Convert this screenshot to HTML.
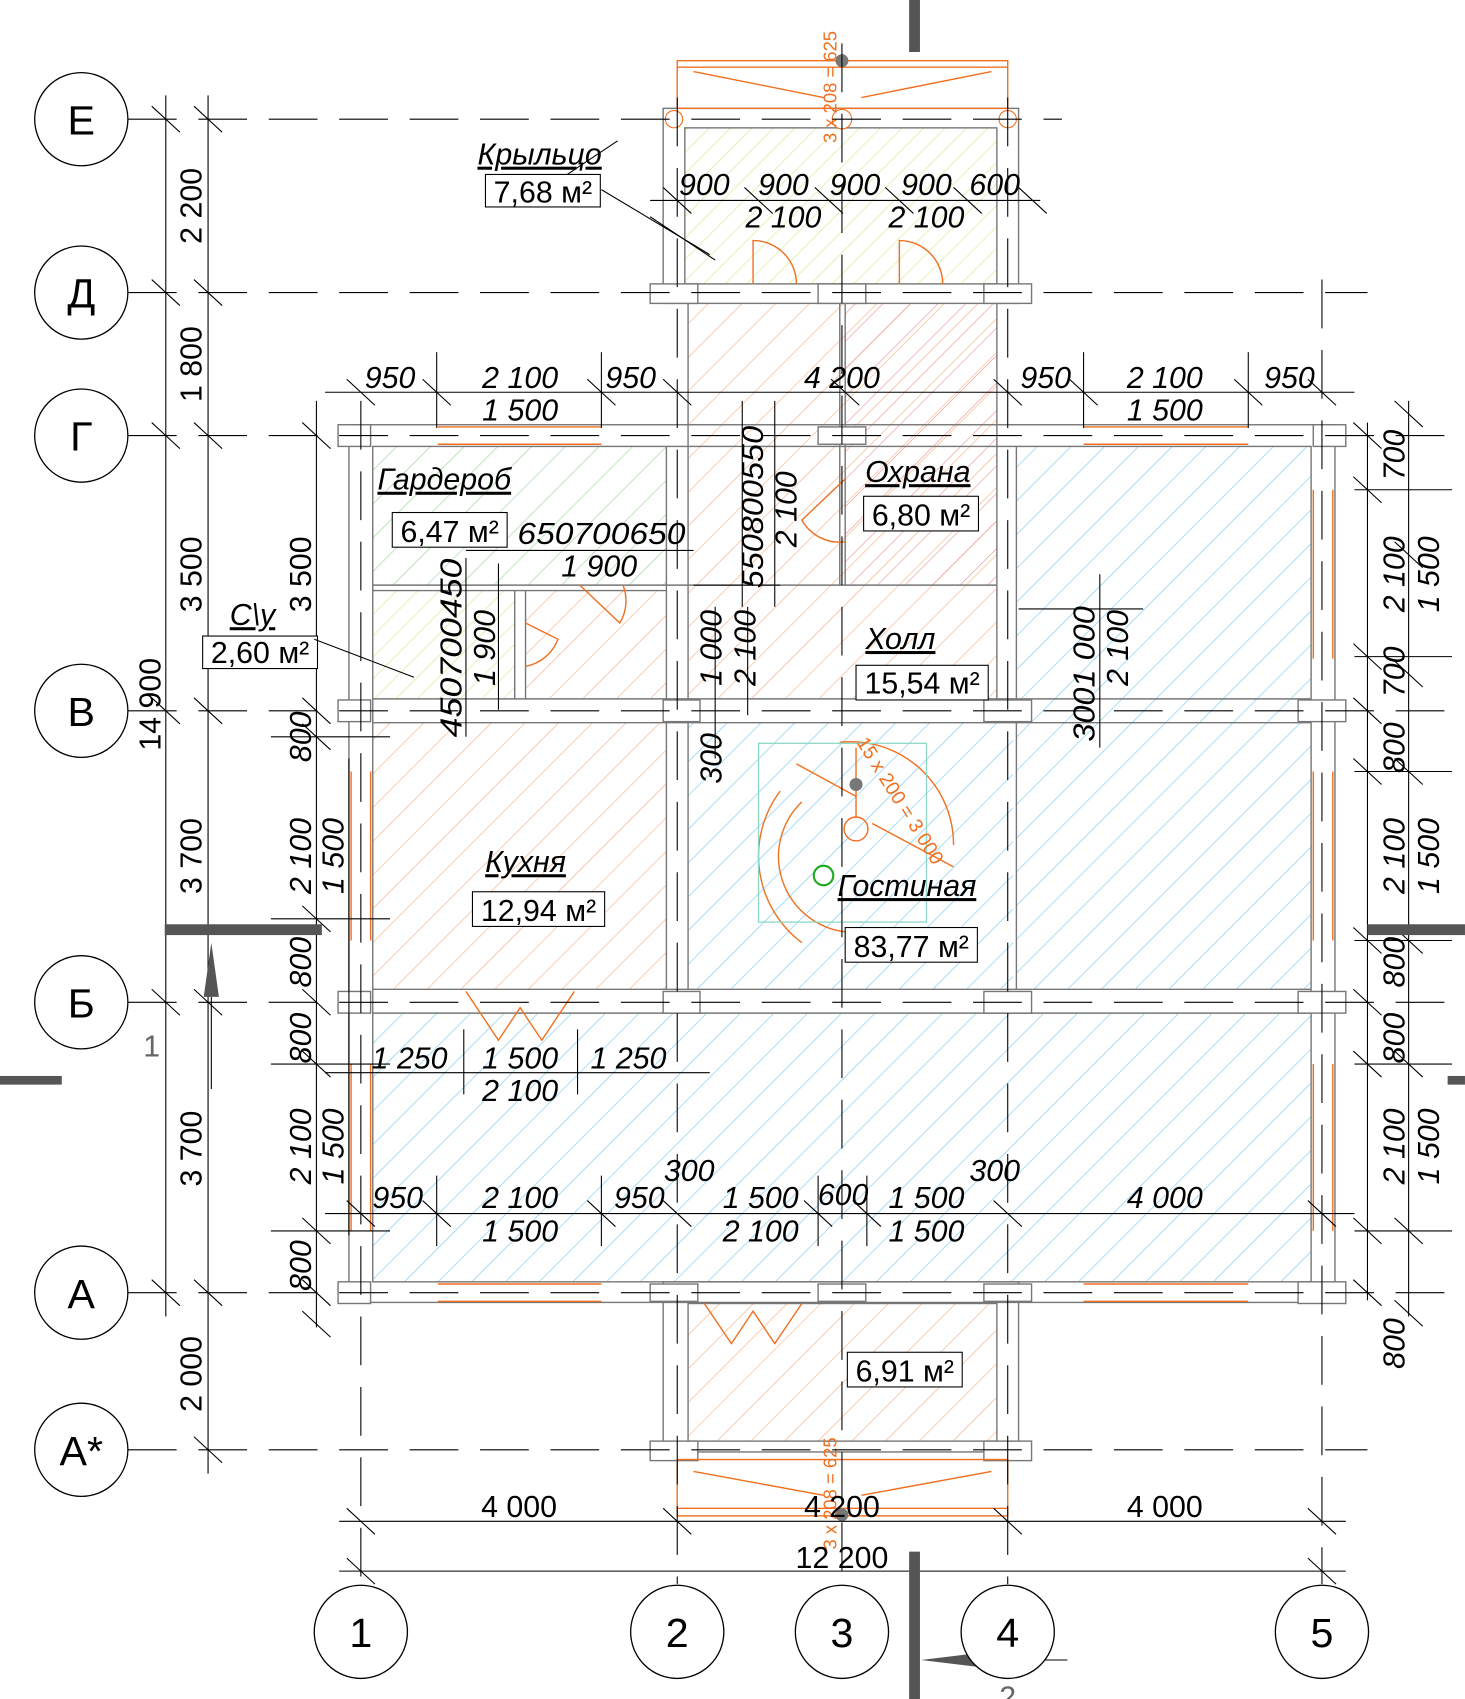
<!DOCTYPE html>
<html><head><meta charset="utf-8"><style>
html,body{margin:0;padding:0;background:#fff}
svg{display:block}
text{font-family:"Liberation Sans",sans-serif;fill:#000}
.d{font-size:28px;font-style:italic}
.n{font-size:28px;font-style:normal}
.l{font-size:28px;font-style:italic;text-decoration:underline}
.c{font-size:38px;font-style:normal}
</style></head><body>
<svg width="1465" height="1699" viewBox="0 0 1352 1568" xmlns="http://www.w3.org/2000/svg">
<defs>
<pattern id="ho" width="22" height="22" patternUnits="userSpaceOnUse" patternTransform="rotate(45)"><line x1="0" y1="0" x2="0" y2="22" stroke="#f5b48a" stroke-width="1.2"/></pattern>
<pattern id="hb" width="22" height="22" patternUnits="userSpaceOnUse" patternTransform="rotate(45)"><line x1="0" y1="0" x2="0" y2="22" stroke="#7ccbf0" stroke-width="1.2"/></pattern>
<pattern id="hg" width="22" height="22" patternUnits="userSpaceOnUse" patternTransform="rotate(45)"><line x1="0" y1="0" x2="0" y2="22" stroke="#9ed69a" stroke-width="1.2"/></pattern>
<pattern id="hy" width="14" height="14" patternUnits="userSpaceOnUse" patternTransform="rotate(45)"><line x1="0" y1="0" x2="0" y2="14" stroke="#d8e890" stroke-width="1.2"/></pattern>
<pattern id="hr" width="18" height="18" patternUnits="userSpaceOnUse" patternTransform="rotate(45)"><line x1="0" y1="0" x2="0" y2="18" stroke="#ee9a9a" stroke-width="1.2"/></pattern>
</defs>
<rect x="632" y="118" width="288" height="144" fill="url(#hy)"/>
<rect x="635" y="280" width="285" height="365" fill="url(#ho)"/>
<rect x="780" y="280" width="140" height="260" fill="url(#hr)"/>
<rect x="344" y="412" width="271" height="128" fill="url(#hg)"/>
<rect x="344" y="545" width="131" height="100" fill="url(#hy)"/>
<rect x="485" y="545" width="130" height="100" fill="url(#ho)"/>
<rect x="938" y="412" width="272" height="501" fill="url(#hb)"/>
<rect x="635" y="667" width="300" height="246" fill="url(#hb)"/>
<rect x="344" y="667" width="271" height="246" fill="url(#ho)"/>
<rect x="344" y="935" width="866" height="248" fill="url(#hb)"/>
<rect x="635" y="1203" width="285" height="127" fill="url(#ho)"/>
<g fill="none" stroke="#777" stroke-width="1.3">
<rect x="322" y="392" width="910" height="810"/>
<rect x="344" y="412" width="866" height="771"/>
<rect x="612" y="100" width="328" height="180"/>
<rect x="632" y="118" width="288" height="144"/>
<rect x="612" y="1183" width="328" height="157"/>
<rect x="635" y="1203" width="285" height="127"/>
<line x1="615" y1="412" x2="615" y2="645"/><line x1="635" y1="280" x2="635" y2="645"/>
<line x1="920" y1="280" x2="920" y2="645"/><line x1="938" y1="412" x2="938" y2="913"/>
<line x1="344" y1="645" x2="1210" y2="645"/><line x1="344" y1="667" x2="1210" y2="667"/>
<line x1="344" y1="913" x2="1210" y2="913"/><line x1="344" y1="935" x2="1210" y2="935"/>
<line x1="615" y1="667" x2="615" y2="913"/><line x1="635" y1="667" x2="635" y2="913"/>
<line x1="344" y1="540" x2="920" y2="540"/><line x1="344" y1="545" x2="615" y2="545"/>
<line x1="475" y1="545" x2="475" y2="645"/><line x1="485" y1="545" x2="485" y2="645"/>
<line x1="775" y1="280" x2="775" y2="540"/><line x1="780" y1="280" x2="780" y2="540"/>
</g>
<g fill="#fff" stroke="#777" stroke-width="1.3">
<rect x="312" y="392" width="30" height="20"/><rect x="1212" y="392" width="30" height="20"/>
<rect x="312" y="646" width="30" height="20"/><rect x="1198" y="646" width="44" height="20"/>
<rect x="312" y="915" width="30" height="20"/><rect x="1198" y="915" width="44" height="20"/>
<rect x="312" y="1183" width="30" height="20"/><rect x="1198" y="1183" width="44" height="20"/>
<rect x="612" y="646" width="34" height="20"/><rect x="908" y="646" width="44" height="20"/>
<rect x="612" y="915" width="34" height="20"/><rect x="908" y="915" width="44" height="20"/>
<rect x="600" y="262" width="44" height="18"/><rect x="908" y="262" width="44" height="18"/>
<rect x="755" y="262" width="44" height="18"/><rect x="755" y="394" width="44" height="16"/>
<rect x="600" y="1330" width="44" height="18"/><rect x="908" y="1330" width="44" height="18"/>
<rect x="755" y="1185" width="44" height="16"/>
<rect x="600" y="1185" width="44" height="16"/><rect x="908" y="1185" width="44" height="16"/>
</g>
<g stroke="#f07020" stroke-width="1.3" fill="none">
<line x1="404" y1="394" x2="555" y2="394"/><line x1="404" y1="410" x2="555" y2="410"/>
<line x1="1000" y1="394" x2="1152" y2="394"/><line x1="1000" y1="410" x2="1152" y2="410"/>
<line x1="404" y1="1185" x2="555" y2="1185"/><line x1="404" y1="1201" x2="555" y2="1201"/>
<line x1="1000" y1="1185" x2="1152" y2="1185"/><line x1="1000" y1="1201" x2="1152" y2="1201"/>
<line x1="324" y1="712" x2="324" y2="868"/><line x1="342" y1="712" x2="342" y2="868"/>
<line x1="324" y1="982" x2="324" y2="1136"/><line x1="342" y1="982" x2="342" y2="1136"/>
<line x1="1212" y1="452" x2="1212" y2="608"/><line x1="1230" y1="452" x2="1230" y2="608"/>
<line x1="1212" y1="712" x2="1212" y2="868"/><line x1="1230" y1="712" x2="1230" y2="868"/>
<line x1="1212" y1="982" x2="1212" y2="1136"/><line x1="1230" y1="982" x2="1230" y2="1136"/>
<rect x="625" y="56" width="305" height="44"/><line x1="625" y1="62" x2="930" y2="62"/>
<line x1="640" y1="66" x2="760" y2="90"/><line x1="915" y1="66" x2="795" y2="90"/>
<rect x="625" y="1347" width="305" height="52"/><line x1="625" y1="1392" x2="930" y2="1392"/>
<line x1="640" y1="1358" x2="760" y2="1380"/><line x1="915" y1="1358" x2="795" y2="1380"/>
<path d="M695 262 L695 222 A40 40 0 0 1 735 262"/>
<path d="M830 262 L830 222 A40 40 0 0 1 870 262"/>
<path d="M780 442 L740 480 A40 40 0 0 0 780 500"/>
<path d="M535 540 L572 575 A40 40 0 0 0 575 540"/>
<path d="M485 575 L515 590 A40 40 0 0 1 485 615"/>
<path d="M430 915 L460 960 L480 930 L500 960 L530 915"/>
<path d="M650 1203 L675 1240 L695 1210 L715 1240 L740 1203"/>
<path d="M775 685 A95 95 0 0 1 880 780"/><path d="M790 690 L790 755"/>
<path d="M735 705 L790 735"/><path d="M805 760 L880 800"/>
<path d="M740 740 A70 70 0 0 0 780 860"/><path d="M720 730 A100 100 0 0 0 740 870"/>
<circle cx="790" cy="765" r="11"/>
</g>
<circle cx="790" cy="724" r="6" fill="#777"/>
<rect x="700" y="686" width="155" height="165" fill="none" stroke="#8dd8c8" stroke-width="1.2"/>
<circle cx="760" cy="808" r="9" fill="none" stroke="#2a2" stroke-width="2"/>
<circle cx="777" cy="56" r="6" fill="#777"/><circle cx="777" cy="110" r="9" fill="#fff" stroke="#f07020"/>
<circle cx="622" cy="110" r="8" fill="#fff" stroke="#f07020"/><circle cx="930" cy="110" r="8" fill="#fff" stroke="#f07020"/>
<circle cx="777" cy="1398" r="6" fill="#777"/>
<text x="0" y="0" transform="translate(772,132) rotate(-90)" style="font-size:17px;fill:#f07020">3 x 208 = 625</text>
<text x="0" y="0" transform="translate(772,1430) rotate(-90)" style="font-size:17px;fill:#f07020">3 x 208 = 625</text>
<text x="0" y="0" transform="translate(790,685) rotate(58)" style="font-size:18px;fill:#f07020">15 x 200 = 3 000</text>
<g stroke="#000" stroke-width="1" stroke-dasharray="45,20">
<line x1="118" y1="110" x2="980" y2="110"/><line x1="118" y1="270" x2="1262" y2="270"/>
<line x1="118" y1="402" x2="1352" y2="402"/><line x1="118" y1="656" x2="1352" y2="656"/>
<line x1="118" y1="925" x2="1352" y2="925"/><line x1="118" y1="1193" x2="1352" y2="1193"/>
<line x1="118" y1="1338" x2="1262" y2="1338"/>
<line x1="333" y1="370" x2="333" y2="1462"/><line x1="625" y1="90" x2="625" y2="1462"/>
<line x1="777" y1="40" x2="777" y2="1462"/><line x1="930" y1="90" x2="930" y2="1462"/>
<line x1="1220" y1="258" x2="1220" y2="1462"/>
</g>
<g stroke="#000" stroke-width="1">
<line x1="153" y1="88" x2="153" y2="1215"/><line x1="192" y1="88" x2="192" y2="1360"/>
<line x1="292" y1="370" x2="292" y2="1225"/><line x1="322" y1="700" x2="322" y2="1140"/>
<line x1="1262" y1="390" x2="1262" y2="1200"/><line x1="1300" y1="370" x2="1300" y2="1215"/>
<line x1="300" y1="362" x2="1250" y2="362"/><line x1="300" y1="1120" x2="1250" y2="1120"/>
<line x1="313" y1="1404" x2="1242" y2="1404"/><line x1="313" y1="1450" x2="1242" y2="1450"/>
<line x1="600" y1="185" x2="960" y2="185"/><line x1="300" y1="990" x2="655" y2="990"/>
<line x1="430" y1="508" x2="640" y2="508"/>
<line x1="250" y1="680" x2="360" y2="680"/><line x1="250" y1="848" x2="360" y2="848"/>
<line x1="250" y1="982" x2="360" y2="982"/><line x1="250" y1="1136" x2="360" y2="1136"/>
<line x1="1250" y1="452" x2="1340" y2="452"/><line x1="1250" y1="606" x2="1340" y2="606"/>
<line x1="1250" y1="712" x2="1340" y2="712"/><line x1="1250" y1="868" x2="1340" y2="868"/>
<line x1="1250" y1="982" x2="1340" y2="982"/><line x1="1250" y1="1136" x2="1340" y2="1136"/>
<line x1="940" y1="562" x2="1055" y2="562"/><line x1="640" y1="540" x2="720" y2="540"/>
<line x1="685" y1="370" x2="685" y2="560"/><line x1="715" y1="370" x2="715" y2="560"/>
<line x1="660" y1="560" x2="660" y2="700"/><line x1="690" y1="560" x2="690" y2="660"/>
<line x1="1015" y1="530" x2="1015" y2="690"/>
<line x1="430" y1="515" x2="430" y2="680"/><line x1="460" y1="520" x2="460" y2="655"/>
<line x1="403" y1="325" x2="403" y2="395"/><line x1="555" y1="325" x2="555" y2="395"/>
<line x1="1000" y1="325" x2="1000" y2="395"/><line x1="1152" y1="325" x2="1152" y2="395"/>
<line x1="403" y1="1085" x2="403" y2="1150"/><line x1="555" y1="1085" x2="555" y2="1150"/>
<line x1="755" y1="1085" x2="755" y2="1150"/><line x1="800" y1="1085" x2="800" y2="1150"/>
<line x1="428" y1="950" x2="428" y2="1010"/><line x1="533" y1="950" x2="533" y2="1010"/>
</g>
<g stroke="#000" stroke-width="1">
<path d="M140 98l26 24M179 98l26 24M140 258l26 24M179 258l26 24M140 390l26 24M179 390l26 24M140 644l26 24M179 644l26 24M140 913l26 24M179 913l26 24M140 1181l26 24M179 1181l26 24M179 1326l26 24"/>
<path d="M320 350l26 24M390 350l26 24M542 350l26 24M612 350l26 24M767 350l26 24M917 350l26 24M987 350l26 24M1139 350l26 24M1207 350l26 24"/>
<path d="M320 1108l26 24M390 1108l26 24M542 1108l26 24M612 1108l26 24M742 1108l26 24M787 1108l26 24M917 1108l26 24M1207 1108l26 24"/>
<path d="M320 1392l26 24M612 1392l26 24M917 1392l26 24M1207 1392l26 24M320 1438l26 24M1207 1438l26 24"/>
<path d="M279 390l26 24M279 644l26 24M279 668l26 24M279 836l26 24M279 913l26 24M279 970l26 24M279 1124l26 24M279 1181l26 24M279 1210l26 24"/>
<path d="M1249 390l26 24M1249 440l26 24M1249 594l26 24M1249 644l26 24M1249 700l26 24M1249 856l26 24M1249 913l26 24M1249 970l26 24M1249 1124l26 24M1249 1181l26 24"/>
<path d="M1287 370l26 24M1287 500l26 24M1287 610l26 24M1287 700l26 24M1287 856l26 24M1287 970l26 24M1287 1124l26 24M1287 1200l26 24"/>
<path d="M612 173l26 24M687 173l26 24M752 173l26 24M817 173l26 24M880 173l26 24M940 173l26 24"/>
<path d="M600 200l60 40M570 130l-60 40"/>
</g>
<g fill="#555">
<rect x="839" y="0" width="10" height="48"/><rect x="839" y="1432" width="10" height="136"/>
<rect x="152" y="853" width="145" height="10"/><rect x="1262" y="853" width="90" height="10"/>
<rect x="0" y="993" width="57" height="8"/><rect x="1336" y="993" width="16" height="8"/>
<polygon points="195,870 188,920 202,920"/><polygon points="850,1532 908,1525 908,1539"/>
</g>
<line x1="195" y1="920" x2="195" y2="1005" stroke="#000"/><line x1="908" y1="1532" x2="985" y2="1532" stroke="#000"/>
<text class="n" x="140" y="975" text-anchor="middle" style="fill:#666">1</text>
<text class="n" x="930" y="1576" text-anchor="middle" style="fill:#666">2</text>
<g fill="#fff" stroke="#000" stroke-width="1.2">
<circle cx="75" cy="110" r="43"/><circle cx="75" cy="270" r="43"/><circle cx="75" cy="402" r="43"/>
<circle cx="75" cy="656" r="43"/><circle cx="75" cy="925" r="43"/><circle cx="75" cy="1193" r="43"/><circle cx="75" cy="1338" r="43"/>
<circle cx="333" cy="1506" r="43"/><circle cx="625" cy="1506" r="43"/><circle cx="777" cy="1506" r="43"/><circle cx="930" cy="1506" r="43"/><circle cx="1220" cy="1506" r="43"/>
</g>
<g text-anchor="middle">
<text class="c" x="75" y="124">Е</text><text class="c" x="75" y="284">Д</text><text class="c" x="75" y="416">Г</text>
<text class="c" x="75" y="670">В</text><text class="c" x="75" y="939">Б</text><text class="c" x="75" y="1207">А</text><text class="c" x="75" y="1352">А*</text>
<text class="c" x="333" y="1520">1</text><text class="c" x="625" y="1520">2</text><text class="c" x="777" y="1520">3</text><text class="c" x="930" y="1520">4</text><text class="c" x="1220" y="1520">5</text>
</g>
<g text-anchor="middle">
<text class="d" x="360" y="358">950</text><text class="d" x="480" y="358">2 100</text><text class="d" x="582" y="358">950</text><text class="d" x="777" y="358">4 200</text><text class="d" x="965" y="358">950</text><text class="d" x="1075" y="358">2 100</text><text class="d" x="1190" y="358">950</text>
<text class="d" x="480" y="388">1 500</text><text class="d" x="1075" y="388">1 500</text>
<text class="d" x="650" y="180">900</text><text class="d" x="723" y="180">900</text><text class="d" x="789" y="180">900</text><text class="d" x="855" y="180">900</text><text class="d" x="918" y="180">600</text>
<text class="d" x="723" y="210">2 100</text><text class="d" x="855" y="210">2 100</text>
<text class="d" x="555" y="502" textLength="155" lengthAdjust="spacingAndGlyphs">650700650</text><text class="d" x="553" y="532">1 900</text>
<text class="d" x="378" y="986">1 250</text><text class="d" x="480" y="986">1 500</text><text class="d" x="580" y="986">1 250</text><text class="d" x="480" y="1016">2 100</text>
<text class="d" x="367" y="1115">950</text><text class="d" x="480" y="1115">2 100</text><text class="d" x="590" y="1115">950</text><text class="d" x="702" y="1115">1 500</text><text class="d" x="778" y="1112">600</text><text class="d" x="855" y="1115">1 500</text><text class="d" x="1075" y="1115">4 000</text>
<text class="d" x="636" y="1090">300</text><text class="d" x="918" y="1090">300</text>
<text class="d" x="480" y="1146">1 500</text><text class="d" x="702" y="1146">2 100</text><text class="d" x="855" y="1146">1 500</text>
<text class="n" x="479" y="1400">4 000</text><text class="n" x="777" y="1400">4 200</text><text class="n" x="1075" y="1400">4 000</text><text class="n" x="777" y="1447">12 200</text>
</g>
<g text-anchor="middle">
<text class="n" transform="translate(186,190) rotate(-90)">2 200</text>
<text class="n" transform="translate(186,336) rotate(-90)">1 800</text>
<text class="n" transform="translate(186,530) rotate(-90)">3 500</text>
<text class="n" transform="translate(148,650) rotate(-90)">14 900</text>
<text class="n" transform="translate(186,790) rotate(-90)">3 700</text>
<text class="n" transform="translate(186,1060) rotate(-90)">3 700</text>
<text class="n" transform="translate(186,1268) rotate(-90)">2 000</text>
<text class="n" transform="translate(287,530) rotate(-90)">3 500</text>
<text class="d" transform="translate(287,680) rotate(-90)">800</text>
<text class="d" transform="translate(287,790) rotate(-90)">2 100</text>
<text class="d" transform="translate(287,888) rotate(-90)">800</text>
<text class="d" transform="translate(287,958) rotate(-90)">800</text>
<text class="d" transform="translate(287,1058) rotate(-90)">2 100</text>
<text class="d" transform="translate(287,1168) rotate(-90)">800</text>
<text class="d" transform="translate(317,790) rotate(-90)">1 500</text>
<text class="d" transform="translate(317,1058) rotate(-90)">1 500</text>
<text class="d" transform="translate(1296,420) rotate(-90)">700</text>
<text class="d" transform="translate(1296,530) rotate(-90)">2 100</text>
<text class="d" transform="translate(1296,620) rotate(-90)">700</text>
<text class="d" transform="translate(1296,690) rotate(-90)">800</text>
<text class="d" transform="translate(1296,790) rotate(-90)">2 100</text>
<text class="d" transform="translate(1296,888) rotate(-90)">800</text>
<text class="d" transform="translate(1296,958) rotate(-90)">800</text>
<text class="d" transform="translate(1296,1058) rotate(-90)">2 100</text>
<text class="d" transform="translate(1296,1240) rotate(-90)">800</text>
<text class="d" transform="translate(1328,530) rotate(-90)">1 500</text>
<text class="d" transform="translate(1328,790) rotate(-90)">1 500</text>
<text class="d" transform="translate(1328,1058) rotate(-90)">1 500</text>
<text class="d" transform="translate(704,468) rotate(-90)" textLength="150" lengthAdjust="spacingAndGlyphs">550800550</text>
<text class="d" transform="translate(735,470) rotate(-90)">2 100</text>
<text class="d" transform="translate(666,598) rotate(-90)">1 000</text>
<text class="d" transform="translate(697,598) rotate(-90)">2 100</text>
<text class="d" transform="translate(666,700) rotate(-90)">300</text>
<text class="d" transform="translate(1010,622) rotate(-90)" textLength="125" lengthAdjust="spacingAndGlyphs">3001 000</text>
<text class="d" transform="translate(1041,598) rotate(-90)">2 100</text>
<text class="d" transform="translate(426,598) rotate(-90)" textLength="165" lengthAdjust="spacingAndGlyphs">450700450</text>
<text class="d" transform="translate(457,598) rotate(-90)">1 900</text>
</g>
<g fill="#fff" stroke="#000" stroke-width="1">
<rect x="448" y="161" width="106" height="30"/><rect x="362" y="473" width="106" height="32"/>
<rect x="187" y="587" width="106" height="30"/><rect x="797" y="458" width="106" height="32"/>
<rect x="790" y="614" width="122" height="32"/><rect x="436" y="823" width="122" height="32"/>
<rect x="780" y="856" width="122" height="32"/><rect x="782" y="1248" width="106" height="32"/>
</g>
<g text-anchor="middle">
<text class="n" x="501" y="187">7,68 м²</text><text class="n" x="415" y="500">6,47 м²</text>
<text class="n" x="240" y="612">2,60 м²</text><text class="n" x="850" y="485">6,80 м²</text>
<text class="n" x="851" y="640">15,54 м²</text><text class="n" x="497" y="850">12,94 м²</text>
<text class="n" x="841" y="883">83,77 м²</text><text class="n" x="835" y="1275">6,91 м²</text>
<text class="l" x="498" y="152">Крыльцо</text><text class="l" x="410" y="452">Гардероб</text>
<text class="l" x="233" y="577">С\у</text><text class="l" x="847" y="445">Охрана</text>
<text class="l" x="831" y="599">Холл</text><text class="l" x="485" y="805">Кухня</text>
<text class="l" x="837" y="827">Гостиная</text>
</g>
<g stroke="#000" stroke-width="1"><line x1="555" y1="175" x2="655" y2="235"/><line x1="290" y1="590" x2="382" y2="625"/></g>
</svg>
</body></html>
